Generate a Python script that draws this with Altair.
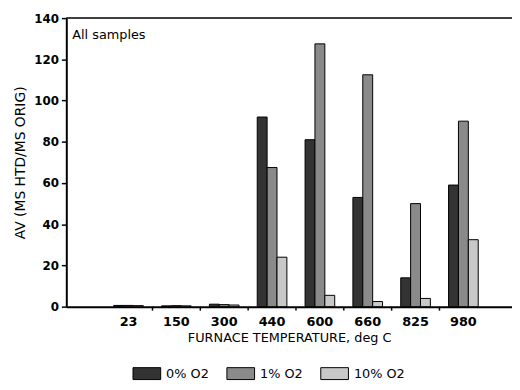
import altair as alt
import pandas as pd

# ---- data ----
temps = ["23", "150", "300", "440", "600", "660", "825", "980"]
series = ["0% O2", "1% O2", "10% O2"]
av_0 = [0.6, 0.4, 1.2, 92, 81, 53, 14, 59]
av_1 = [0.6, 0.5, 1.0, 67.5, 127.5, 112.5, 50, 90]
av_10 = [0.5, 0.4, 0.8, 24, 5.5, 2.5, 4, 32.5]
fills = ["#333333", "#8a8a8a", "#c8c8c8"]
y_ticks = [0, 20, 40, 60, 80, 100, 120, 140]

rows = []
for i, t in enumerate(temps):
    for s, vals in zip(series, [av_0, av_1, av_10]):
        rows.append({"temp": t, "series": s, "av": vals[i]})
df = pd.DataFrame(rows)
tick_df = pd.DataFrame({"temp": temps[1:]})

W, H = 451, 292
FONT = "DejaVu Sans"
PI = 0.38

x_scale = alt.Scale(paddingInner=PI, paddingOuter=0.849, align=0.584)

bars = alt.Chart(df).mark_bar(stroke="black", strokeWidth=1).encode(
    x=alt.X(
        "temp:N",
        sort=temps,
        scale=x_scale,
        axis=alt.Axis(
            title="FURNACE TEMPERATURE, deg C",
            labelAngle=0,
            ticks=False,
            labelPadding=9,
            labelFont=FONT,
            labelFontSize=13,
            labelFontWeight="bold",
            titleFont=FONT,
            titleFontSize=13,
            titleFontWeight="normal",
            titlePadding=3,
        ),
    ),
    xOffset=alt.XOffset("series:N", sort=series, scale=alt.Scale(paddingInner=0, paddingOuter=0)),
    y=alt.Y(
        "av:Q",
        scale=alt.Scale(domain=[0, 140], nice=False),
        axis=alt.Axis(
            title="AV (MS HTD/MS ORIG)",
            values=y_ticks,
            tickSize=5,
            labelPadding=3,
            labelFont=FONT,
            labelFontSize=12,
            labelFontWeight="bold",
            titleFont=FONT,
            titleFontSize=14,
            titleFontWeight="normal",
            titlePadding=6,
        ),
    ),
    fill=alt.Fill(
        "series:N",
        sort=series,
        scale=alt.Scale(domain=series, range=fills),
        legend=alt.Legend(
            title=None,
            orient="none",
            legendX=67,
            legendY=345,
            direction="horizontal",
            symbolType="M-1,-0.43H1V0.43H-1Z",
            symbolSize=784,
            symbolStrokeColor="black",
            symbolStrokeWidth=1,
            symbolOpacity=1,
            labelFont=FONT,
            labelFontSize=13,
            labelOffset=5,
            columnPadding=15,
            padding=0,
        ),
    ),
)

# small tick marks between the temperature groups
ticks = alt.Chart(tick_df).mark_rule(color="black", strokeWidth=1.5, xOffset=-48.4 * PI / 2).encode(
    x=alt.X("temp:N", sort=temps, bandPosition=0),
    y=alt.value(H),
    y2=alt.value(H + 4),
)

frame_top = alt.Chart(pd.DataFrame({"k": [0]})).mark_rule(color="black", strokeWidth=1.5).encode(
    x=alt.value(0), x2=alt.value(W), y=alt.value(0)
)

note = alt.Chart(pd.DataFrame({"k": [0]})).mark_text(
    align="left", baseline="top", font=FONT, fontSize=13, color="black"
).encode(x=alt.value(6), y=alt.value(11), text=alt.value("All samples"))

chart = alt.layer(bars, ticks, frame_top, note).properties(
    width=W,
    height=H,
    autosize=alt.AutoSizeParams(type="none"),
    padding={"left": 59, "top": 8, "right": 0, "bottom": 74},
).configure_view(stroke=None).configure_axis(
    grid=False,
    domainColor="black",
    domainWidth=2,
    tickColor="black",
    tickWidth=1.5,
    labelColor="black",
    titleColor="black",
)

chart.save("out.html", embed_options={"renderer": "svg", "actions": False})
